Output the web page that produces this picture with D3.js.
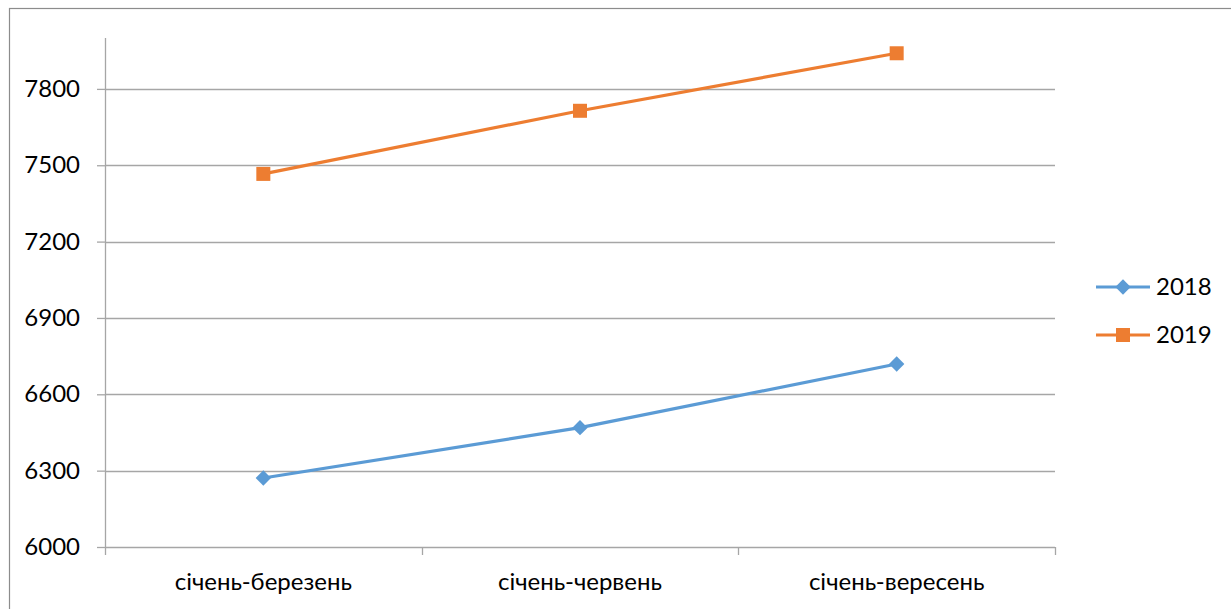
<!DOCTYPE html>
<html>
<head>
<meta charset="utf-8">
<script src="https://cdn.jsdelivr.net/npm/d3@7.9.0/dist/d3.min.js"></script>
<style>
  body { margin: 0; background: #fff; }
  svg { display: block; font-family: Lato, "Open Sans", sans-serif; }
</style>
</head>
<body>
<svg width="1231" height="609"></svg>
<script>
const categories = ["січень-березень", "січень-червень", "січень-вересень"];
const years = ["2018", "2019"];
const values2018 = [6271, 6469, 6719];
const values2019 = [7466, 7714, 7940];
const yTicks = [6000, 6300, 6600, 6900, 7200, 7500, 7800];

const colors = { "2018": "#5B9BD5", "2019": "#ED7D31" };
const seriesData = { "2018": values2018, "2019": values2019 };
const fontSize = 24;

const svg = d3.select("svg");
const margin = { top: 38, left: 105, right: 176, bottom: 62 };
const width = 1231 - margin.left - margin.right,
      height = 609 - margin.top - margin.bottom;

// outer chart border (only top and left visible in the frame)
svg.append("rect")
  .attr("x", 9.5).attr("y", 8.5)
  .attr("width", 1300).attr("height", 700)
  .attr("fill", "none").attr("stroke", "#8c8c8c").attr("stroke-width", 1.2);

const g = svg.append("g").attr("transform", `translate(${margin.left},${margin.top})`);

const x = d3.scaleBand().domain(categories).range([0, width]);
const y = d3.scaleLinear().domain([6000, 8000]).range([height, 0]);

// gridlines
g.append("g")
  .selectAll("line")
  .data(yTicks.slice(1))
  .join("line")
  .attr("x1", 0).attr("x2", width)
  .attr("y1", d => Math.round(y(d)) + 0.5).attr("y2", d => Math.round(y(d)) + 0.5)
  .attr("stroke", "#a6a6a6").attr("stroke-width", 1.3);

// y axis
const yAxis = g.append("g")
  .call(d3.axisLeft(y).tickValues(yTicks).tickSize(8).tickPadding(17).tickFormat(d3.format("d")));
yAxis.select(".domain").attr("stroke", "#a6a6a6").attr("stroke-width", 1.3).attr("d", `M0.5,0V${height}`);
yAxis.selectAll(".tick line").attr("stroke", "#a6a6a6").attr("stroke-width", 1.3);
yAxis.selectAll("text").attr("font-size", fontSize).attr("fill", "#000").attr("font-family", "Lato, sans-serif");

// x axis
const xAxis = g.append("g").attr("transform", `translate(0,${height})`);
xAxis.append("line")
  .attr("x1", 0).attr("x2", width).attr("y1", 0.5).attr("y2", 0.5)
  .attr("stroke", "#a6a6a6").attr("stroke-width", 1.3);
const bounds = categories.map(c => x(c)).concat([width]);
xAxis.selectAll(".xt")
  .data(bounds)
  .join("line")
  .attr("class", "xt")
  .attr("x1", d => Math.round(d) + 0.5).attr("x2", d => Math.round(d) + 0.5)
  .attr("y1", 0).attr("y2", 8)
  .attr("stroke", "#a6a6a6").attr("stroke-width", 1.3);
xAxis.selectAll(".xl")
  .data(categories)
  .join("text")
  .attr("class", "xl")
  .attr("x", d => x(d) + x.bandwidth() / 2)
  .attr("y", 43)
  .attr("text-anchor", "middle")
  .attr("font-size", fontSize)
  .attr("fill", "#000")
  .text(d => d);

// series
const line = d3.line()
  .x((d, i) => x(categories[i]) + x.bandwidth() / 2)
  .y(d => y(d));

const diamond = d3.symbol().type(d3.symbolDiamond2).size(150);

years.forEach(yr => {
  const vals = seriesData[yr];
  g.append("path")
    .datum(vals)
    .attr("fill", "none")
    .attr("stroke", colors[yr])
    .attr("stroke-width", 3.2)
    .attr("stroke-linejoin", "round")
    .attr("d", line);
  const pts = g.append("g").selectAll("g")
    .data(vals)
    .join("g")
    .attr("transform", (d, i) => `translate(${x(categories[i]) + x.bandwidth() / 2},${y(d)})`);
  if (yr === "2018") {
    pts.append("path").attr("d", diamond).attr("fill", colors[yr]);
  } else {
    pts.append("rect").attr("x", -7).attr("y", -7).attr("width", 14).attr("height", 14).attr("fill", colors[yr]);
  }
});

// legend
const legend = svg.append("g");
years.forEach((yr, i) => {
  const ly = 287 + i * 48;
  const lg = legend.append("g").attr("transform", `translate(1096,${ly})`);
  lg.append("line").attr("x1", 0).attr("x2", 54).attr("y1", 0).attr("y2", 0)
    .attr("stroke", colors[yr]).attr("stroke-width", 3.2);
  if (yr === "2018") {
    lg.append("path").attr("transform", "translate(27,0)").attr("d", diamond).attr("fill", colors[yr]);
  } else {
    lg.append("rect").attr("x", 20).attr("y", -7).attr("width", 14).attr("height", 14).attr("fill", colors[yr]);
  }
  lg.append("text").attr("x", 60).attr("y", 8).attr("font-size", fontSize).attr("fill", "#000").text(yr);
});
</script>
</body>
</html>
